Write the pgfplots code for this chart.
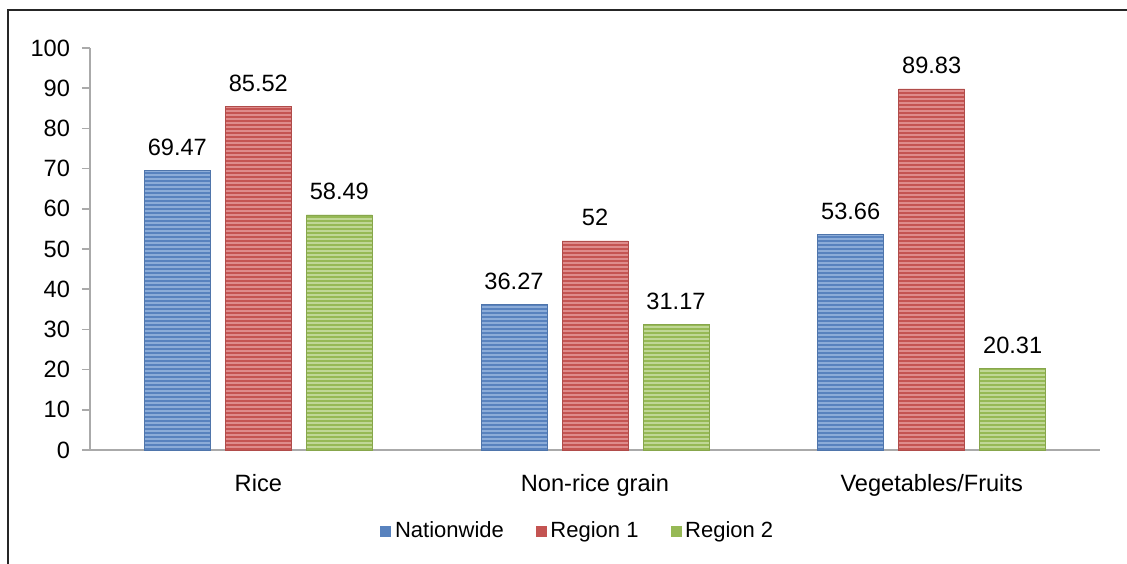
\documentclass[border=0pt]{standalone}
\usepackage{pgfplots}
\pgfplotsset{compat=1.18}
\usepackage{fontspec}
\setmainfont{Liberation Sans}
\usetikzlibrary{patterns.meta}
\makeatletter
\tikzset{nopost/.code={\let\tikz@postactions\pgfutil@empty}}
\makeatother
\definecolor{cblue}{RGB}{88,130,190}
\definecolor{cbluel}{RGB}{140,172,216}
\definecolor{cred}{RGB}{196,84,82}
\definecolor{credl}{RGB}{222,140,140}
\definecolor{cgreen}{RGB}{150,185,85}
\definecolor{cgreenl}{RGB}{192,215,150}
\definecolor{axgray}{RGB}{170,170,170}
\begin{document}
\begin{tikzpicture}
\useasboundingbox (0,0) rectangle (563.5pt,281.5pt);
\draw[line width=1pt, black!85] (3.75pt,-1pt) -- (3.75pt,276.25pt) -- (565pt,276.25pt);
\begin{axis}[
  at={(45pt,56.5pt)}, anchor=south west,
  scale only axis, width=505pt, height=201pt,
  font=\fontsize{11.8}{14}\selectfont,
  /pgf/number format/assume math mode=true,
  ybar,
  bar width=33pt,
  xmin=-0.5, xmax=2.5,
  ymin=0, ymax=100,
  xtick=data,
  xticklabels={Rice, Non-rice grain, Vegetables/Fruits},
  xtick style={draw=none},
  xticklabel style={yshift=-4.5pt},
  ytick={0,10,...,100},
  yticklabel style={xshift=-2.5pt},
  axis x line*=bottom,
  axis y line*=left,
  axis line style={axgray, line width=0.8pt, -},
  ytick style={axgray, line width=0.8pt},
  tick align=outside,
  major tick length=4pt,
  nodes near coords={\pgfmathprintnumber[fixed,precision=2]{\pgfplotspointmeta}},
  every node near coord/.append style={font=\fontsize{11.8}{14}\selectfont, yshift=4pt, black},
  legend columns=-1,
  legend style={draw=none, at={(0.484,-0.2015)}, anchor=center, font=\fontsize{11}{13}\selectfont,
    /tikz/every even column/.append style={column sep=14pt}},
]
\addplot[bar shift=-40.5pt, fill=cblue, draw=cblue!90!black, line width=0.3pt,
  postaction={pattern={Lines[angle=0,distance=2pt,line width=0.7pt]}, pattern color=cbluel},
  legend image code/.code={\fill[nopost, cblue] (0pt,-2.5pt) rectangle (5pt,2.5pt);}]
  coordinates {(0,69.47) (1,36.27) (2,53.66)};
\addplot[bar shift=0pt, fill=cred, draw=cred!90!black, line width=0.3pt,
  postaction={pattern={Lines[angle=0,distance=2pt,line width=0.7pt]}, pattern color=credl},
  legend image code/.code={\fill[nopost, cred] (0pt,-2.5pt) rectangle (5pt,2.5pt);}]
  coordinates {(0,85.52) (1,52) (2,89.83)};
\addplot[bar shift=40.5pt, fill=cgreen, draw=cgreen!90!black, line width=0.3pt,
  postaction={pattern={Lines[angle=0,distance=2pt,line width=0.7pt]}, pattern color=cgreenl},
  legend image code/.code={\fill[nopost, cgreen] (0pt,-2.5pt) rectangle (5pt,2.5pt);}]
  coordinates {(0,58.49) (1,31.17) (2,20.31)};
\legend{Nationwide, Region 1, Region 2}
\end{axis}
\end{tikzpicture}
\end{document}
